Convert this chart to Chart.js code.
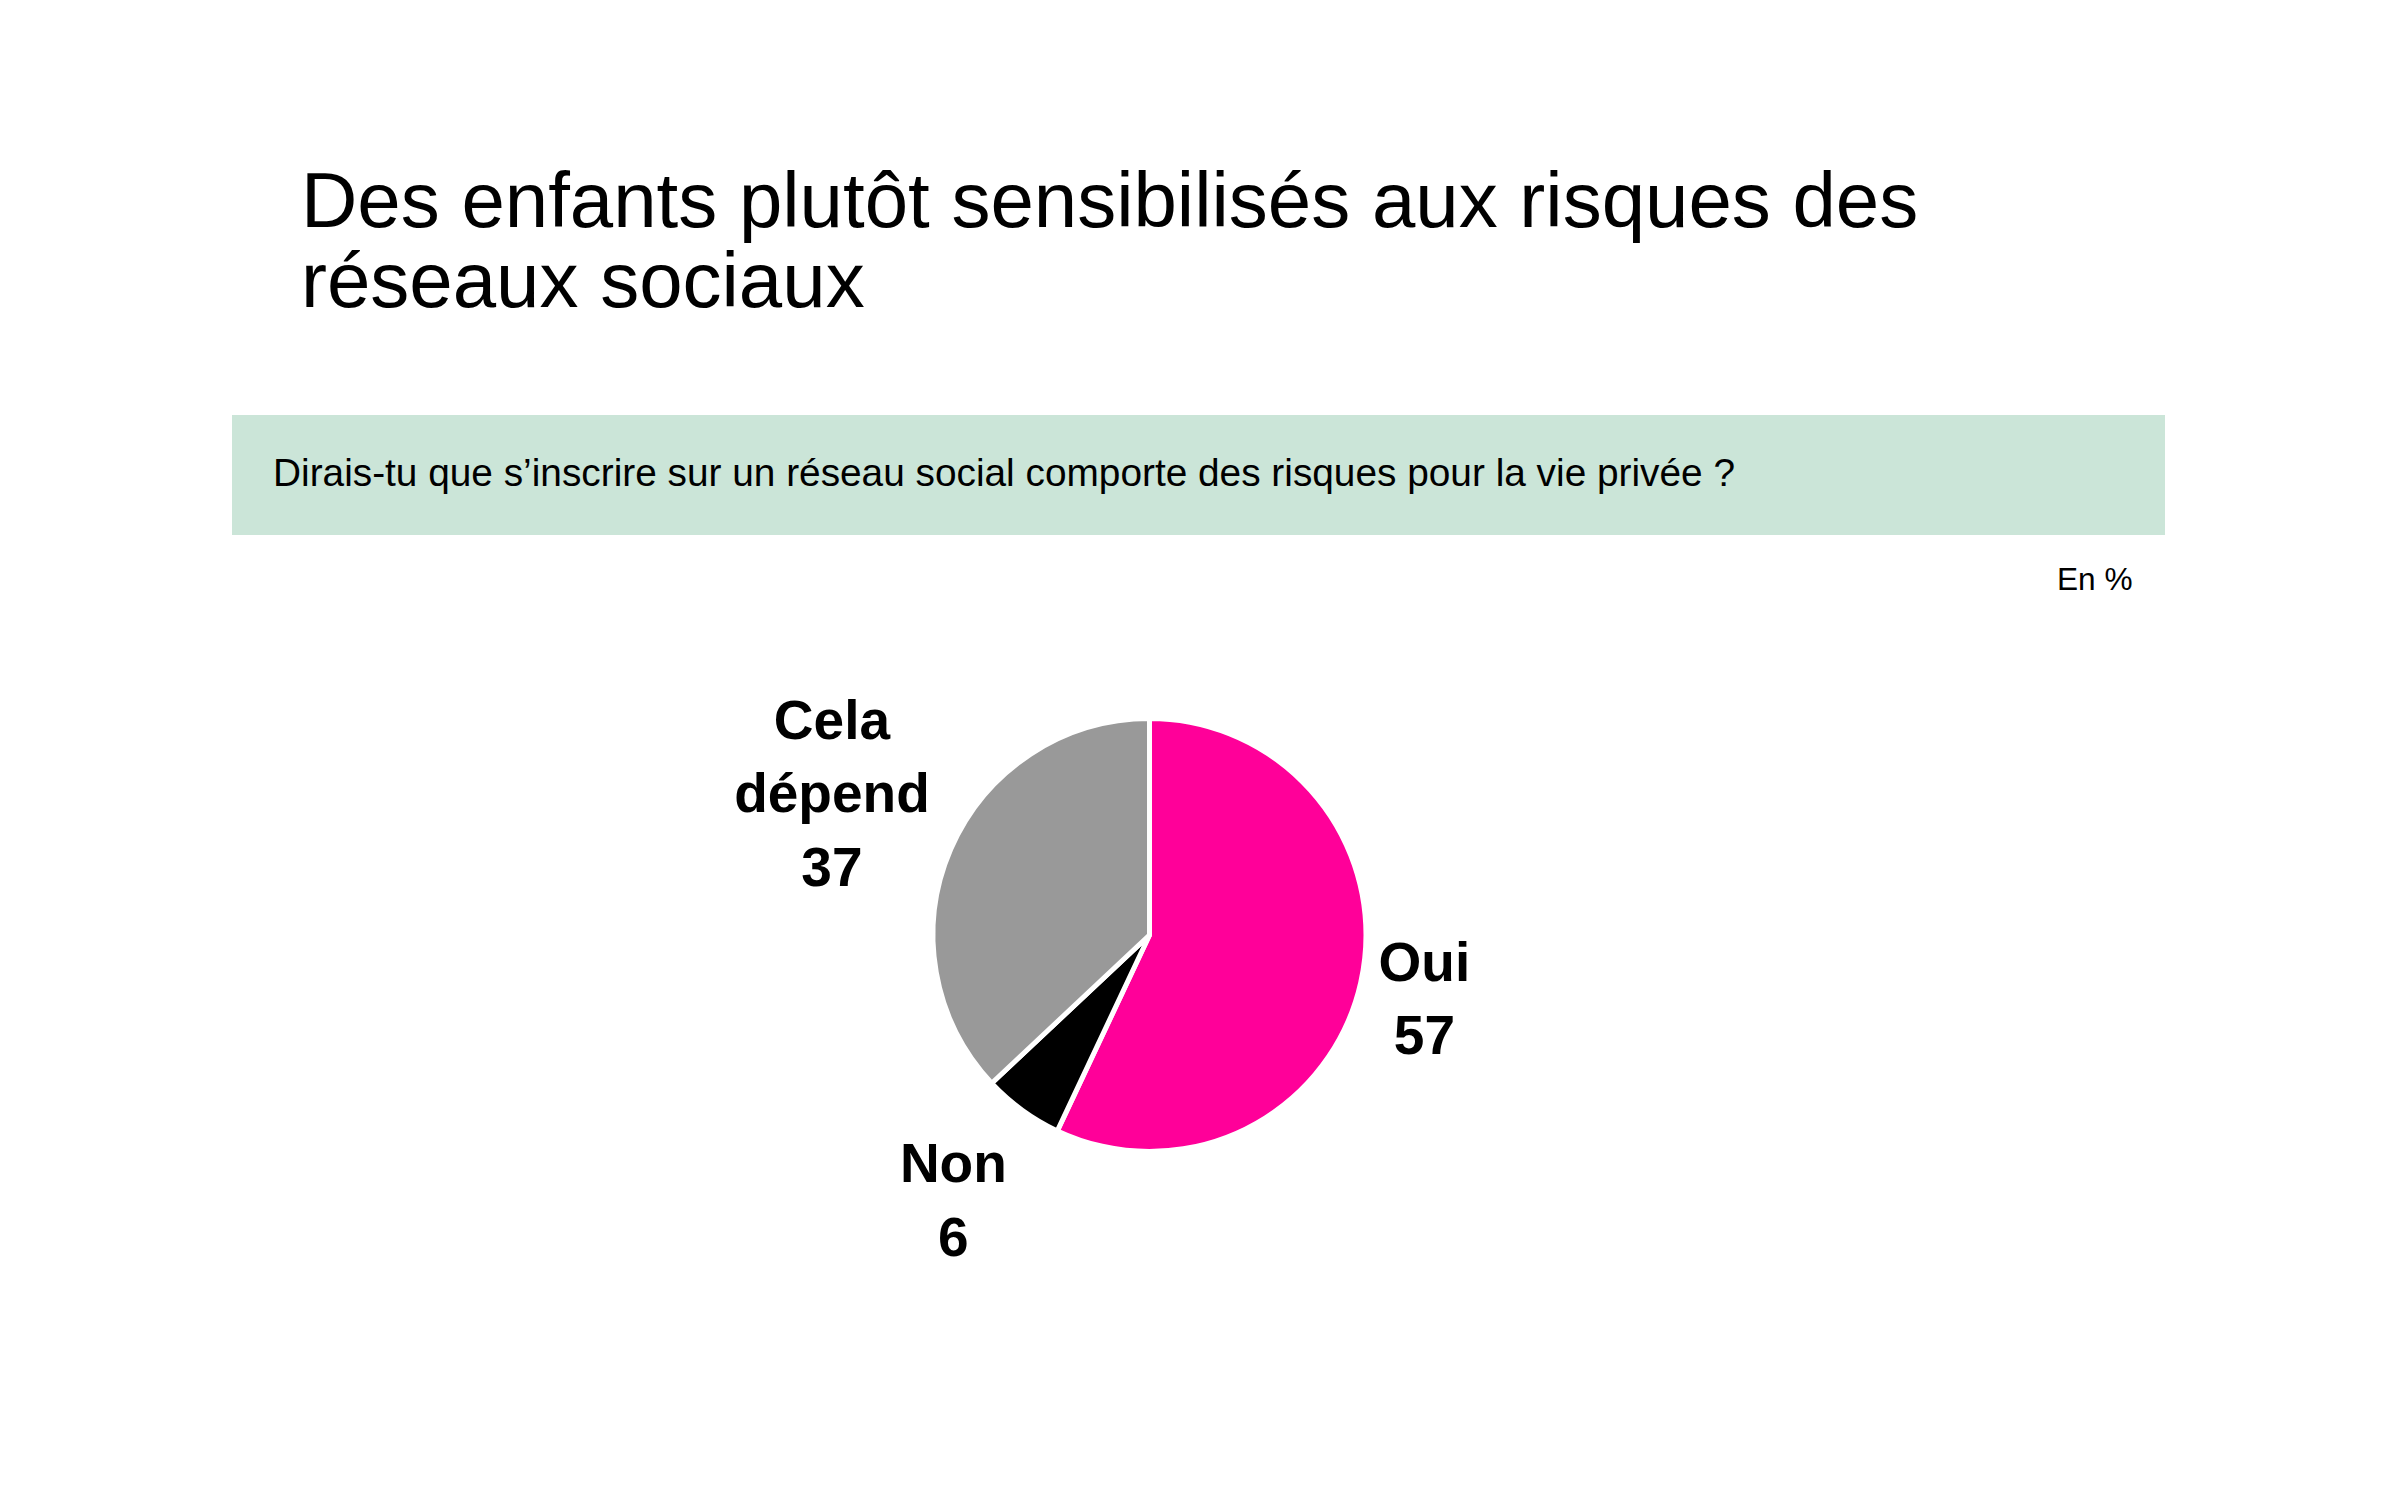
<!DOCTYPE html>
<html lang="fr">
<head>
<meta charset="utf-8">
<title>Des enfants plutôt sensibilisés aux risques des réseaux sociaux</title>
<script src="https://cdn.jsdelivr.net/npm/chart.js@4/dist/chart.umd.min.js"></script>
<style>
  html, body { margin: 0; padding: 0; background: #ffffff; }
  body { width: 2397px; height: 1498px; position: relative; overflow: hidden;
         font-family: "Liberation Sans", Arial, sans-serif; color: #000; }
  #title { position: absolute; left: 301px; top: 160px; font-size: 78px; line-height: 80px; white-space: nowrap; }
  #band { position: absolute; left: 232px; top: 415px; width: 1933px; height: 120px; background: #CBE5D8; }
  #question { position: absolute; left: 273px; top: 454px; font-size: 38.8px; line-height: 38px; white-space: nowrap; }
  #unit { position: absolute; left: 2057px; top: 564px; font-size: 31.6px; line-height: 31px; white-space: nowrap; }
  #wrap { position: absolute; left: 0; top: 0; width: 2397px; height: 1498px; }
</style>
</head>
<body>
<div id="title">Des enfants plutôt sensibilisés aux risques des<br>réseaux sociaux</div>
<div id="band"></div>
<div id="question">Dirais-tu que s’inscrire sur un réseau social comporte des risques pour la vie privée ?</div>
<div id="unit">En %</div>
<div id="wrap"><canvas id="chart" width="2397" height="1498"></canvas></div>
<script>
// ---- Data ----
const categories = ['Oui', 'Non', 'Cela dépend'];
const values = [57, 6, 37];
const sliceColors = ['#FF0099', '#000000', '#999999'];

// ---- Label placement (angle shift in degrees from slice middle, distance from centre in px) ----
const labelAngleShift = [0.3, 0.6, 0.75];
const labelDistance = [282, 329, 348];

const labelFont = 'bold 55px "Liberation Sans", Arial, sans-serif';
const labelLineHeight = 73.5;
const capHeight = 0.716 * 55;

const outsideLabels = {
  id: 'outsideLabels',
  afterDatasetsDraw(chart) {
    const ctx = chart.ctx;
    const meta = chart.getDatasetMeta(0);
    ctx.save();
    ctx.font = labelFont;
    ctx.fillStyle = '#000000';
    ctx.textAlign = 'center';
    ctx.textBaseline = 'alphabetic';
    meta.data.forEach((arc, i) => {
      const p = arc.getProps(['x', 'y', 'startAngle', 'endAngle'], true);
      const mid = (p.startAngle + p.endAngle) / 2 + labelAngleShift[i] * Math.PI / 180;
      const cx = p.x + Math.cos(mid) * labelDistance[i];
      const cy = p.y + Math.sin(mid) * labelDistance[i];
      const lines = categories[i].split(' ').concat([String(values[i])]);
      const first = cy - (lines.length - 1) * labelLineHeight / 2 + capHeight / 2;
      lines.forEach((t, k) => ctx.fillText(t, cx, first + k * labelLineHeight));
    });
    ctx.restore();
  }
};

new Chart(document.getElementById('chart'), {
  type: 'pie',
  data: {
    labels: categories,
    datasets: [{
      data: values,
      backgroundColor: sliceColors,
      borderColor: '#ffffff',
      borderWidth: 5,
      radius: 216.5
    }]
  },
  options: {
    responsive: false,
    animation: false,
    events: [],
    layout: { padding: { left: 0, right: 98, top: 372, bottom: 0 } },
    plugins: {
      legend: { display: false },
      tooltip: { enabled: false },
      title: { display: false }
    }
  },
  plugins: [outsideLabels]
});
</script>
</body>
</html>
